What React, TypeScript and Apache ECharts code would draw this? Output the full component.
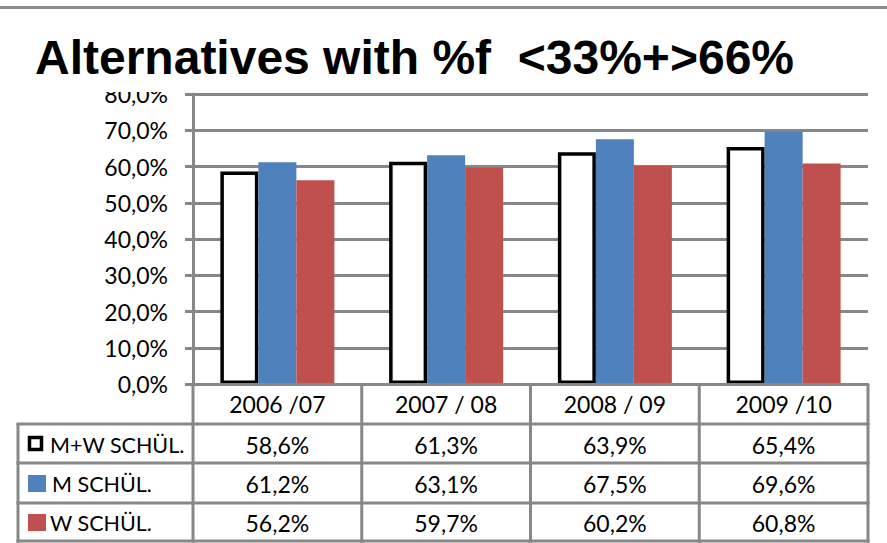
import React, { useEffect, useRef } from 'react';
import * as echarts from 'echarts';

// School years shown on the category axis / table header
const categories = ['2006 /07', '2007 / 08', '2008 / 09', '2009 /10'];

// Series names (table row labels)
const seriesNames = ['M+W SCHÜL.', 'M SCHÜL.', 'W SCHÜL.'];

// Shares in percent
const mwValues = [58.6, 61.3, 63.9, 65.4];
const mValues = [61.2, 63.1, 67.5, 69.6];
const wValues = [56.2, 59.7, 60.2, 60.8];

// Value axis ticks
const yMin = 0;
const yMax = 80;
const yStep = 10;

const titleText = 'Alternatives with %f  <33%+>66%';

const fmt = (v: number) => v.toFixed(1).replace('.', ',') + '%';

export default function App() {
  const ref = useRef<HTMLDivElement>(null);

  useEffect(() => {
    const el = ref.current;
    if (!el) return;
    document.body.style.margin = '0';
    const chart = echarts.init(el, null, { renderer: 'svg' });

    const W = 887;
    const H = 543;
    const font = 'Lato';
    const numSize = 23;
    const nameSize = 21.5;
    const lineColor = '#878787';
    const blue = '#4F81BD';
    const red = '#C0504D';
    const gridLeft = 193;
    const gridRight = 868;
    const gridTop = 94;
    const gridBottom = 384;

    const rowLines = [424, 463, 503, 541];
    const tableLeft = 18;

    chart.setOption({
      animation: false,
      grid: {
        left: gridLeft,
        right: W - gridRight,
        top: gridTop,
        bottom: H - gridBottom,
        containLabel: false,
      },
      xAxis: {
        type: 'category',
        data: categories,
        axisLine: { show: true, lineStyle: { color: lineColor, width: 3 } },
        axisTick: { show: false },
        axisLabel: {
          fontFamily: font,
          fontSize: numSize,
          color: '#000',
          margin: 8,
        },
        z: 5,
      },
      yAxis: {
        type: 'value',
        min: yMin,
        max: yMax,
        interval: yStep,
        axisLine: { show: true, lineStyle: { color: lineColor, width: 3 } },
        axisTick: { show: true, length: 8, lineStyle: { color: lineColor, width: 3 } },
        splitLine: { show: true, lineStyle: { color: lineColor, width: 3 } },
        axisLabel: {
          formatter: (v: number) => fmt(v),
          fontFamily: font,
          fontSize: numSize,
          color: '#000',
          margin: 25,
        },
      },
      series: [
        {
          name: seriesNames[0],
          type: 'bar',
          data: mwValues,
          barWidth: 38,
          barGap: '0%',
          itemStyle: { color: '#ffffff', borderColor: '#000000', borderWidth: 3.5 },
        },
        {
          name: seriesNames[1],
          type: 'bar',
          data: mValues,
          barWidth: 38,
          barGap: '0%',
          itemStyle: { color: blue },
        },
        {
          name: seriesNames[2],
          type: 'bar',
          data: wValues,
          barWidth: 38,
          barGap: '0%',
          itemStyle: { color: red },
        },
      ],
    });

    // Column centres from the category axis
    const centers = categories.map((c) => {
      const p = chart.convertToPixel({ xAxisIndex: 0 }, c as any) as any;
      return Array.isArray(p) ? p[0] : p;
    });
    const band = centers.length > 1 ? centers[1] - centers[0] : gridRight - gridLeft;
    const bounds = [centers[0] - band / 2, ...centers.map((c) => c + band / 2)];

    const rows = [
      { name: seriesNames[0], values: mwValues, marker: 'outline' },
      { name: seriesNames[1], values: mValues, marker: blue },
      { name: seriesNames[2], values: wValues, marker: red },
    ];

    const graphics: any[] = [];

    // White band behind the title
    graphics.push({
      type: 'rect',
      shape: { x: 0, y: 0, width: W, height: 92 },
      style: { fill: '#ffffff' },
      z: 100,
      silent: true,
    });
    // Rule along the top edge
    graphics.push({
      type: 'rect',
      shape: { x: 0, y: 6, width: W, height: 3 },
      style: { fill: '#8c8c8c' },
      z: 101,
    });
    // Title
    graphics.push({
      type: 'text',
      x: 35,
      y: 57,
      style: {
        text: titleText,
        fontFamily: 'Liberation Sans',
        fontWeight: 'bold',
        fontSize: 48,
        fill: '#000',
        verticalAlign: 'middle',
        align: 'left',
      },
      z: 102,
    });

    // Table grid: verticals under the axis
    bounds.forEach((x) => {
      graphics.push({
        type: 'line',
        shape: { x1: x, y1: gridBottom, x2: x, y2: H },
        style: { stroke: lineColor, lineWidth: 3 },
        z: 50,
      });
    });
    // Left edge of the legend column
    graphics.push({
      type: 'line',
      shape: { x1: tableLeft, y1: rowLines[0], x2: tableLeft, y2: H },
      style: { stroke: lineColor, lineWidth: 3 },
      z: 50,
    });
    // Row separators
    rowLines.forEach((y) => {
      graphics.push({
        type: 'line',
        shape: { x1: tableLeft - 1.5, y1: y, x2: bounds[bounds.length - 1] + 1.5, y2: y },
        style: { stroke: lineColor, lineWidth: 3 },
        z: 50,
      });
    });

    // Rows: legend key, label, values
    rows.forEach((row, r) => {
      const cy = (rowLines[r] + rowLines[r + 1]) / 2 + 1;
      if (row.marker === 'outline') {
        graphics.push({
          type: 'rect',
          shape: { x: 29.5, y: cy - 7, width: 12, height: 12 },
          style: { fill: '#fff', stroke: '#000', lineWidth: 3.5 },
          z: 60,
        });
      } else {
        graphics.push({
          type: 'rect',
          shape: { x: 28, y: cy - 9, width: 18, height: 17 },
          style: { fill: row.marker },
          z: 60,
        });
      }
      graphics.push({
        type: 'text',
        x: r === 1 ? 52 : 50,
        y: cy,
        style: {
          text: row.name,
          fontFamily: font,
          fontSize: nameSize,
          fill: '#000',
          verticalAlign: 'middle',
          align: 'left',
        },
        z: 60,
      });
      row.values.forEach((v, i) => {
        graphics.push({
          type: 'text',
          x: centers[i],
          y: cy,
          style: {
            text: fmt(v),
            fontFamily: font,
            fontSize: numSize,
            fill: '#000',
            verticalAlign: 'middle',
            align: 'center',
          },
          z: 60,
        });
      });
    });

    chart.setOption({ graphic: { elements: graphics } });

    return () => {
      chart.dispose();
    };
  }, []);

  return (
    <div
      ref={ref}
      style={{ position: 'fixed', left: 0, top: 0, width: 887, height: 543, background: '#fff' }}
    />
  );
}
